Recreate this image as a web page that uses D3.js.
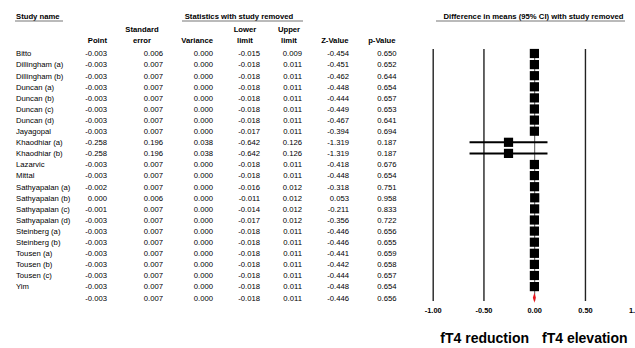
<!DOCTYPE html>
<html><head><meta charset="utf-8">
<script src="https://cdn.jsdelivr.net/npm/d3@7"></script>
<style>body{margin:0;background:#fff}svg{display:block}text{font-family:Arial,"Liberation Sans",sans-serif}</style>
</head><body><svg id="c" width="635" height="348"></svg>
<script>
const studies = ["Bitto","Dillingham (a)","Dillingham (b)","Duncan (a)","Duncan (b)","Duncan (c)","Duncan (d)","Jayagopal","Khaodhiar (a)","Khaodhiar (b)","Lazarvic","Mittal","Sathyapalan (a)","Sathyapalan (b)","Sathyapalan (c)","Sathyapalan (d)","Steinberg (a)","Steinberg (b)","Tousen (a)","Tousen (b)","Tousen (c)","Yim",""];
const point = [-0.003,-0.003,-0.003,-0.003,-0.003,-0.003,-0.003,-0.003,-0.258,-0.258,-0.003,-0.003,-0.002,0.000,-0.001,-0.003,-0.003,-0.003,-0.003,-0.003,-0.003,-0.003,-0.003];
const stdErr = [0.006,0.007,0.007,0.007,0.007,0.007,0.007,0.007,0.196,0.196,0.007,0.007,0.007,0.006,0.007,0.007,0.007,0.007,0.007,0.007,0.007,0.007,0.007];
const variance = [0.000,0.000,0.000,0.000,0.000,0.000,0.000,0.000,0.038,0.038,0.000,0.000,0.000,0.000,0.000,0.000,0.000,0.000,0.000,0.000,0.000,0.000,0.000];
const lower = [-0.015,-0.018,-0.018,-0.018,-0.018,-0.018,-0.018,-0.017,-0.642,-0.642,-0.018,-0.018,-0.016,-0.011,-0.014,-0.017,-0.018,-0.018,-0.018,-0.018,-0.018,-0.018,-0.018];
const upper = [0.009,0.011,0.011,0.011,0.011,0.011,0.011,0.011,0.126,0.126,0.011,0.011,0.012,0.012,0.012,0.012,0.011,0.011,0.011,0.011,0.011,0.011,0.011];
const zValue = [-0.454,-0.451,-0.462,-0.448,-0.444,-0.449,-0.467,-0.394,-1.319,-1.319,-0.418,-0.448,-0.318,0.053,-0.211,-0.356,-0.446,-0.446,-0.441,-0.442,-0.444,-0.448,-0.446];
const pValue = [0.650,0.652,0.644,0.654,0.657,0.653,0.641,0.694,0.187,0.187,0.676,0.654,0.751,0.958,0.833,0.722,0.656,0.655,0.659,0.658,0.657,0.654,0.656];
const xTicks = [-1.00,-0.50,0.00,0.50,1.00];
const xTickLabels = ["-1.00","-0.50","0.00","0.50","1.00"];

const svg = d3.select("#c");
const n = studies.length;
const y = d3.scaleLinear().domain([0, n-1]).range([53.5, 297.7]);
const x = d3.scaleLinear().domain([-1, 1]).range([433.2, 636.2]);
const fmt = d3.format(".3f");
const nf = v => fmt(v).replace("−","-");

// headers
const hdr = svg.append("g").attr("font-weight","bold").attr("font-size","7.7px").attr("fill","#000");
hdr.append("text").attr("x",16).attr("y",19).text("Study name");
hdr.append("text").attr("x",239).attr("y",19).attr("text-anchor","middle").text("Statistics with study removed");
hdr.append("text").attr("x",533.5).attr("y",19).attr("text-anchor","middle").text("Difference in means (95% CI) with study removed");
const ul = svg.append("g").attr("stroke","#777").attr("stroke-width",1.2);
ul.append("line").attr("x1",15).attr("x2",63).attr("y1",21).attr("y2",21);
ul.append("line").attr("x1",182).attr("x2",303).attr("y1",21).attr("y2",21);
ul.append("line").attr("x1",436).attr("x2",625).attr("y1",21).attr("y2",21);

const cols = [
  {right:107, h:["","Point"], hx:107, anchor:"end", v:point},
  {right:163, h:["Standard","error"], hx:142, anchor:"middle", v:stdErr},
  {right:213, h:["","Variance"], hx:213, anchor:"end", v:variance},
  {right:260, h:["Lower","limit"], hx:245, anchor:"middle", v:lower},
  {right:302, h:["Upper","limit"], hx:289, anchor:"middle", v:upper},
  {right:349, h:["","Z-Value"], hx:348.5, anchor:"end", v:zValue},
  {right:396.5, h:["","p-Value"], hx:395.5, anchor:"end", v:pValue}
];
cols.forEach(c => {
  hdr.append("text").attr("x",c.hx).attr("y",32).attr("text-anchor",c.anchor).text(c.h[0]);
  hdr.append("text").attr("x",c.hx).attr("y",43).attr("text-anchor",c.anchor).text(c.h[1]);
});

const body = svg.append("g").attr("font-size","7.7px").attr("fill","#000");
body.selectAll("text.name").data(studies).join("text").attr("class","name")
  .attr("x",16).attr("y",(d,i)=>y(i)+2.8).text(d=>d);
cols.forEach(c => {
  body.selectAll(null).data(c.v).join("text")
    .attr("x",c.right).attr("y",(d,i)=>y(i)+2.8).attr("text-anchor","end").text(d=>nf(d));
});

// forest plot grid lines
const gl = svg.append("g");
gl.selectAll("line").data(xTicks.slice(0,4)).join("line")
  .attr("x1",d=>x(d)).attr("x2",d=>x(d)).attr("y1",49).attr("y2",301)
  .attr("stroke",d=>d===0?"#555":"#222").attr("stroke-width",d=>d===0?1:1.4);
svg.append("g").attr("font-size","7.4px").attr("font-weight","bold")
  .selectAll("text").data(xTicks).join("text")
  .attr("x",d=>x(d)).attr("y",313).attr("text-anchor","middle").text((d,i)=>xTickLabels[i]);

// study markers
const m = svg.append("g");
const idx = d3.range(n-1);
m.selectAll("line.ci").data(idx).join("line").attr("class","ci")
  .attr("x1",i=>x(lower[i])).attr("x2",i=>x(upper[i])).attr("y1",i=>y(i)).attr("y2",i=>y(i))
  .attr("stroke","#000").attr("stroke-width",2);
m.selectAll("rect").data(idx).join("rect")
  .attr("x",i=>x(point[i])-4.6).attr("y",i=>y(i)-4.6).attr("width",9.2).attr("height",9.2).attr("fill","#000");
// summary diamond
const s = n-1;
svg.append("path").attr("fill","#e8141c")
  .attr("d",`M${x(lower[s])},${y(s)} L${x(point[s])},${y(s)-5} L${x(upper[s])},${y(s)} L${x(point[s])},${y(s)+5} Z`);

// bottom labels
const bl = svg.append("g").attr("font-size","14px").attr("font-weight","bold");
bl.append("text").attr("x",529).attr("y",343).attr("text-anchor","end").text("fT4 reduction");
bl.append("text").attr("x",542).attr("y",343).text("fT4 elevation");
</script></body></html>
